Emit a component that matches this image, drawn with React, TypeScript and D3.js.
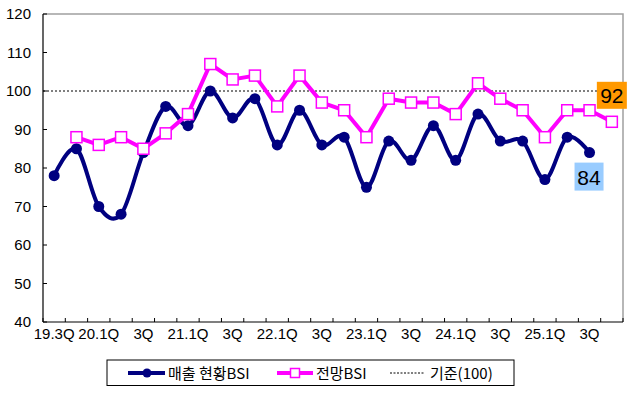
import React from "react";
import * as d3 from "d3";

// quarters from 19.3Q to 25.4Q
const quarters = [
  "19.3Q", "19.4Q", "20.1Q", "20.2Q", "20.3Q", "20.4Q",
  "21.1Q", "21.2Q", "21.3Q", "21.4Q", "22.1Q", "22.2Q",
  "22.3Q", "22.4Q", "23.1Q", "23.2Q", "23.3Q", "23.4Q",
  "24.1Q", "24.2Q", "24.3Q", "24.4Q", "25.1Q", "25.2Q",
  "25.3Q", "25.4Q",
];

// x tick labels shown (every second quarter)
const tickLabels = [
  "19.3Q", "20.1Q", "3Q", "21.1Q", "3Q", "22.1Q", "3Q",
  "23.1Q", "3Q", "24.1Q", "3Q", "25.1Q", "3Q",
];

// 매출 현황BSI, 19.3Q..25.3Q
const salesBSI = [
  78, 85, 70, 68, 84, 96, 91, 100, 93, 98, 86, 95, 86, 88, 75,
  87, 82, 91, 82, 94, 87, 87, 77, 88, 84,
];

// 전망BSI, 19.4Q..25.4Q
const outlookBSI = [
  88, 86, 88, 85, 89, 94, 107, 103, 104, 96, 104, 97, 95, 88,
  98, 97, 97, 94, 102, 98, 95, 88, 95, 95, 92,
];

const yTicks = [40, 50, 60, 70, 80, 90, 100, 110, 120];
const baseline = 100;

const W = 640;
const H = 397;
const margin = { top: 14, right: 17, bottom: 75, left: 43 };

const numFont = "'Liberation Sans', Arial, sans-serif";
const krFont = "'Noto Sans CJK KR', 'Liberation Sans', sans-serif";

export default function App() {
  const x = d3
    .scaleBand<string>()
    .domain(quarters)
    .range([margin.left, W - margin.right]);
  const y = d3
    .scaleLinear()
    .domain([40, 120])
    .range([H - margin.bottom, margin.top]);

  const cx = (q: string) => (x(q) as number) + x.bandwidth() / 2;

  const salesPts = salesBSI.map((v, i) => ({ q: quarters[i], v }));
  const outlookPts = outlookBSI.map((v, i) => ({ q: quarters[i + 1], v }));

  const smoothLine = d3
    .line<{ q: string; v: number }>()
    .x((d) => cx(d.q))
    .y((d) => y(d.v))
    .curve(d3.curveCardinal.tension(0));

  const straightLine = d3
    .line<{ q: string; v: number }>()
    .x((d) => cx(d.q))
    .y((d) => y(d.v));

  const x0 = margin.left;
  const x1 = W - margin.right;
  const y0 = H - margin.bottom;
  const y1 = margin.top;

  // band edges for the bottom ticks
  const edges = quarters.map((q) => x(q) as number).concat([x1]);

  const lastSales = salesPts[salesPts.length - 1];
  const lastOutlook = outlookPts[outlookPts.length - 1];

  return (
    <svg
      width={W}
      height={H}
      style={{ position: "absolute", left: 0, top: 0, background: "#fff" }}
    >
      {/* top and right frame */}
      <path
        d={`M${x0},${y1}H${x1}V${y0}`}
        fill="none"
        stroke="#a0a0a0"
        strokeWidth={1.5}
      />

      {/* y axis */}
      <line x1={x0} x2={x0} y1={y1} y2={y0} stroke="#000" strokeWidth={1.2} />
      {yTicks.map((t) => (
        <g key={t}>
          <line x1={x0} x2={x0 + 4} y1={y(t)} y2={y(t)} stroke="#000" />
          <text
            x={31}
            y={y(t)}
            dy="0.35em"
            textAnchor="end"
            fontFamily={numFont}
            fontSize={15}
            fill="#000"
          >
            {t}
          </text>
        </g>
      ))}

      {/* x axis */}
      <line x1={x0} x2={x1} y1={y0} y2={y0} stroke="#000" strokeWidth={1.2} />
      {edges.map((e, i) => (
        <line key={i} x1={e} x2={e} y1={y0} y2={y0 - 4} stroke="#000" />
      ))}
      {tickLabels.map((lab, i) => (
        <text
          key={i}
          x={cx(quarters[i * 2])}
          y={y0 + 17}
          textAnchor="middle"
          fontFamily={numFont}
          fontSize={15}
          fill="#000"
        >
          {lab}
        </text>
      ))}

      {/* 기준(100) */}
      <line
        x1={x0}
        x2={x1}
        y1={y(baseline)}
        y2={y(baseline)}
        stroke="#000"
        strokeWidth={1}
        strokeDasharray="2,2"
      />

      {/* 매출 현황BSI */}
      <path
        d={smoothLine(salesPts) as string}
        fill="none"
        stroke="#000080"
        strokeWidth={4}
      />
      {salesPts.map((d) => (
        <circle key={d.q} cx={cx(d.q)} cy={y(d.v)} r={5.5} fill="#000080" />
      ))}

      {/* 전망BSI */}
      <path
        d={straightLine(outlookPts) as string}
        fill="none"
        stroke="#ff00ff"
        strokeWidth={4}
      />
      {outlookPts.map((d) => (
        <rect
          key={d.q}
          x={cx(d.q) - 5.5}
          y={y(d.v) - 5.5}
          width={11}
          height={11}
          fill="#fff"
          stroke="#ff00ff"
          strokeWidth={1.5}
        />
      ))}

      {/* value callouts */}
      <g transform={`translate(${cx(lastOutlook.q) - 15},${y(lastOutlook.v) - 40})`}>
        <rect width={30} height={27} fill="#ff9900" />
        <text x={15} y={21} textAnchor="middle" fontFamily={numFont} fontSize={21} fill="#000">
          {lastOutlook.v}
        </text>
      </g>
      <g transform={`translate(${cx(lastSales.q) - 15},${y(lastSales.v) + 10})`}>
        <rect width={29} height={28} fill="#99ccff" />
        <text x={14.5} y={22} textAnchor="middle" fontFamily={numFont} fontSize={21} fill="#000">
          {lastSales.v}
        </text>
      </g>

      {/* legend */}
      <g>
        <rect x={107} y={360} width={407} height={25.5} fill="#fff" stroke="#000" strokeWidth={1} />
        <line x1={128} x2={165} y1={373} y2={373} stroke="#000080" strokeWidth={4} />
        <circle cx={147} cy={373} r={4.5} fill="#000080" />
        <text x={168} y={378.5} fontFamily={krFont} fontSize={15} fill="#000">
          매출 현황BSI
        </text>
        <line x1={277} x2={313} y1={373} y2={373} stroke="#ff00ff" strokeWidth={4} />
        <rect x={290.5} y={368.5} width={9} height={9} fill="#fff" stroke="#ff00ff" strokeWidth={1.5} />
        <text x={316} y={378.5} fontFamily={krFont} fontSize={15} fill="#000">
          전망BSI
        </text>
        <line x1={390} x2={425} y1={373} y2={373} stroke="#000" strokeWidth={1} strokeDasharray="2,1.5" />
        <text x={430} y={378.5} fontFamily={krFont} fontSize={15} fill="#000">
          기준(100)
        </text>
      </g>
    </svg>
  );
}
